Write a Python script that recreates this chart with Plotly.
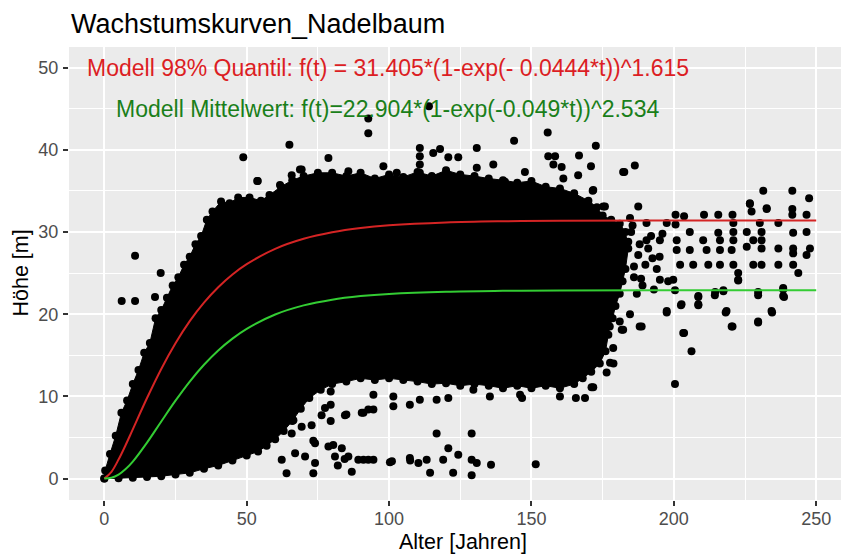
import plotly.graph_objects as go

# ---------------- data ----------------
title_text = "Wachstumskurven_Nadelbaum"
x_label = "Alter [Jahren]"
y_label = "Höhe [m]"
x_ticks = [0, 50, 100, 150, 200, 250]
y_ticks = [0, 10, 20, 30, 40, 50]

red_label = "Modell 98% Quantil: f(t) = 31.405*(1-exp(- 0.0444*t))^1.615"
green_label = "Modell Mittelwert: f(t)=22.904*(1-exp(-0.049*t))^2.534"

# model curves
curve_age = [0, 2.5, 5, 7.5, 10, 15, 20, 25, 30, 35, 40, 45, 50, 60, 70, 80, 90,
             100, 120, 140, 160, 200, 250]
curve_q98 = [0, 0.83, 2.32, 4.09, 5.99, 9.80, 13.34, 16.46, 19.15, 21.40, 23.27,
             24.82, 26.08, 27.95, 29.17, 29.96, 30.48, 30.81, 31.16, 31.30, 31.36,
             31.40, 31.40]
curve_mean = [0, 0.10, 0.48, 1.16, 2.07, 4.38, 6.95, 9.48, 11.81, 13.85, 15.59,
              17.03, 18.22, 19.96, 21.07, 21.77, 22.20, 22.47, 22.74, 22.84, 22.88,
              22.90, 22.90]

# outline of the dense point cloud (age, height)
cloud_age = [0, 0.3, 2, 4, 6, 8, 10, 12, 14, 16, 18, 20, 22, 24, 26, 28, 30, 32, 34,
             36, 38, 41, 44, 47, 51, 55, 58, 62, 66, 70, 75, 80, 85, 90, 95, 100, 105,
             110, 115, 120, 125, 130, 135, 140, 145, 150, 155, 160, 165, 170, 173, 175,
             178, 181, 183, 184, 183, 182, 181, 179.5, 178.5, 177.5, 177, 176, 174, 171,
             168, 165, 160, 155, 150, 145, 140, 135, 130, 125, 120, 115, 110, 105, 100,
             95, 90, 85, 80, 76, 72, 69, 66, 63, 60, 57, 54, 50, 45, 40, 35, 30, 25, 20,
             15, 10, 5, 0]
cloud_h = [0, 1, 3, 5.2, 8, 9.5, 11.5, 13.2, 15.3, 16.5, 19.5, 20.5, 22, 23.5, 24.5,
           26, 27, 28.5, 29.5, 31.5, 32.5, 33.7, 33.5, 34.2, 34.2, 33.8, 34.5, 35.5,
           36.3, 36.8, 37.2, 37.2, 36.8, 37.2, 36.5, 37, 36.7, 37.3, 36.8, 37.5, 37,
           36.8, 36.5, 36.3, 36, 36.2, 35.5, 35.3, 34.7, 33.8, 33, 32, 31.5, 31, 30,
           28, 25.5, 24, 22.5, 21, 19.5, 18.5, 17.5, 15.5, 14, 13, 12.2, 11.5, 11, 11.3,
           11, 11.3, 11, 11.3, 11.5, 11.3, 11.6, 11.5, 11.8, 12, 12.2, 12, 12.2, 11.8,
           11.5, 10.8, 9.8, 8.5, 7, 5.8, 4.8, 4, 3.3, 2.8, 2.2, 1.6, 1.2, 0.7, 0.5, 0.3,
           0.2, 0.1, 0.05, 0]

# individual (scattered) observations outside the dense cloud
pts_age = [
    6.1, 10.8, 10.8, 19.8, 17.8,
    48.8, 53.7, 65.0, 61.7, 65.8, 69.3, 92.7, 92.7, 78.7, 130.8, 143.9, 155.7, 172.6,
    166.7, 170.9, 182.6, 110.8, 110.8, 110.8, 110.8, 117.9, 115.5, 120.8, 124.3,
    130.8, 136.6, 155.9, 158.3, 157.7, 160.6, 166.4, 161.2, 171.7, 175.8, 53.9, 68.7,
    98.0, 85.7, 102.7, 147.7, 140.7, 114.0, 186.3, 182.2,
    231.4, 241.6, 247.5, 226.7, 227.3, 232.6, 241.6, 241.6, 246.6, 200.6, 203.6,
    210.6, 215.6, 220.6, 187.5, 184.6, 171.5, 175.2, 232.6, 226.7,
    190.4, 197.5, 200.6, 220.9, 230.2, 236.7, 220.9, 225.6, 230.8, 241.9, 246.6,
    205.6, 210.3, 215.6, 216.2, 220.9, 227.9, 230.8, 195.1, 201.0, 190.4, 201.0,
    205.6, 211.5, 216.2, 220.3, 225.6, 230.8, 236.7, 241.9, 247.8, 246.6, 241.9,
    202.2, 206.8, 212.1, 216.2, 220.9, 227.9, 230.8, 236.7, 241.9, 243.7, 222.6,
    222.6, 195.1, 199.8, 238.4, 238.7, 229.6, 217.4, 214.4, 208.6, 208.6, 202.5,
    200.4, 218.2, 234.5, 229.6, 220.6, 203.6, 197.5, 188.7,
    185.0, 188.0, 192.0, 195.0, 190.0, 194.0, 186.0, 189.0, 193.0, 198.0, 184.0,
    192.5, 196.0, 187.0, 185.5, 187.5, 186.0, 188.5, 191.0,
    188.0, 197.5, 202.7, 203.3, 206.2, 200.4, 218.5, 220.3, 229.6, 234.3, 217.4,
    214.5, 229.6, 238.4, 238.4, 222.6, 208.6, 208.6,
    177.6, 176.4, 171.1, 181.7, 178.7, 181.0, 184.6, 178.8, 182.2,
    94.5, 101.5, 110.8, 116.7, 120.8, 129.6, 135.4, 146.0, 146.7, 160.0, 165.6,
    168.8, 171.7,
    85.0, 91.0, 94.5, 101.5, 107.3, 79.5, 79.5, 79.5, 66.4, 73.4,
    64.0, 73.4, 86.9, 70.5, 74.0, 78.7, 80.4, 83.4, 85.7, 89.2, 92.7, 65.8, 69.3,
    72.8, 65.8, 76.3, 77.5, 84.5, 74.0, 62.3, 67.0, 81.0, 92.7, 90.4,
    91.0, 94.5, 101.0, 107.3, 110.3, 113.2, 114.4, 116.7, 119.0, 120.8, 124.3,
    122.5, 129.0, 129.0, 130.8, 129.0, 135.8, 151.5, 100.3, 107.4, 82.0, 84.4,
]
pts_h = [
    21.6, 21.6, 27.1, 25.0, 22.1,
    39.1, 36.2, 40.6, 35.7, 36.9, 37.6, 43.8, 42.0, 39.0, 40.2, 41.1, 42.1, 40.5,
    39.3, 38.0, 37.3, 40.2, 39.2, 38.2, 37.2, 40.1, 39.6, 39.1, 39.1,
    37.8, 38.2, 39.2, 39.2, 38.2, 37.9, 36.9, 36.5, 35.1, 33.1, 36.2, 37.6,
    38.0, 37.4, 37.2, 37.3, 36.1, 45.3, 38.1, 37.3,
    35.0, 35.0, 34.1, 33.5, 32.5, 32.8, 32.8, 32.1, 32.1, 32.1, 31.9,
    32.1, 32.1, 32.1, 33.1, 31.7, 35.0, 33.1, 32.9, 33.4,
    31.1, 31.1, 30.9, 31.1, 31.1, 31.1, 30.0, 30.0, 30.0, 29.9, 30.0,
    30.0, 29.0, 29.9, 29.0, 29.0, 29.0, 29.0, 29.0, 29.0, 29.0, 27.8,
    27.8, 27.8, 27.8, 27.8, 28.2, 28.0, 28.0, 28.0, 28.0, 27.2, 27.4,
    26.0, 26.0, 26.0, 26.0, 26.0, 26.0, 26.0, 26.0, 26.0, 25.0, 25.0,
    24.2, 24.2, 24.2, 23.2, 22.1, 22.3, 22.9, 22.3, 22.1, 21.1, 21.1,
    22.9, 20.2, 20.2, 19.0, 18.5, 17.7, 20.2, 18.5,
    30.0, 28.5, 29.5, 27.0, 26.0, 25.5, 24.5, 23.5, 23.0, 24.0, 28.8,
    26.8, 29.8, 22.5, 30.8, 27.2, 25.8, 24.3, 28.0,
    18.5, 20.4, 21.2, 17.7, 15.5, 11.5, 20.4, 18.5, 19.1, 20.4, 22.8,
    22.7, 22.7, 23.0, 22.2, 24.1, 22.2, 21.2,
    14.1, 12.9, 11.1, 18.1, 15.9, 19.1, 20.0, 14.0, 18.1,
    10.2, 10.0, 9.6, 9.6, 9.8, 10.8, 10.0, 10.2, 9.8, 10.0, 9.8,
    9.8, 11.1,
    7.8, 8.0, 8.4, 8.8, 9.0, 10.6, 9.0, 7.0, 7.1, 4.6,
    0.66, 0.66, 0.85, 2.7, 4.3, 3.9, 4.1, 3.7, 2.7, 2.3, 2.3, 5.5, 6.3,
    6.5, 7.3, 7.7, 8.6, 7.7, 1.9, 2.3, 3.1, 2.7, 8.4, 8.0,
    2.3, 2.3, 2.1, 2.5, 1.9, 2.3, 0.7, 5.5, 2.3, 3.7, 2.9,
    0.7, 5.5, 2.3, 1.9, 0.4, 1.7, 1.75, 2.0, 2.2, 1.6, 2.4,
]

# ---------------- figure ----------------
fig = go.Figure()

fig.add_trace(go.Scatter(
    x=cloud_age, y=cloud_h, mode="lines+markers", fill="toself",
    fillcolor="black", line=dict(color="black", width=1),
    marker=dict(color="black", size=8), hoverinfo="skip", showlegend=False))

fig.add_trace(go.Scatter(
    x=pts_age, y=pts_h, mode="markers",
    marker=dict(color="black", size=8), showlegend=False))

fig.add_trace(go.Scatter(
    x=curve_age, y=curve_q98, mode="lines", line=dict(color="#D42424", width=2, shape="spline"),
    showlegend=False))
fig.add_trace(go.Scatter(
    x=curve_age, y=curve_mean, mode="lines", line=dict(color="#33CC33", width=2, shape="spline"),
    showlegend=False))

FONT = "Liberation Sans, Arial, sans-serif"

fig.add_annotation(x=99.6, y=50, xref="x", yref="y", text=red_label, showarrow=False,
                   font=dict(family=FONT, size=23, color="#DC1E24"),
                   xanchor="center", yanchor="middle")
fig.add_annotation(x=99.6, y=45, xref="x", yref="y", text=green_label, showarrow=False,
                   font=dict(family=FONT, size=23, color="#1A7F1A"),
                   xanchor="center", yanchor="middle")

# title and axis titles
fig.add_annotation(x=0, y=1 + (47 - 24) / 453, xref="paper", yref="paper", text=title_text,
                   showarrow=False, font=dict(family=FONT, size=27, color="black"),
                   xanchor="left", yanchor="middle")
fig.add_annotation(x=(463 - 69) / 772, y=(500 - 542) / 453, xref="paper", yref="paper",
                   text=x_label, showarrow=False,
                   font=dict(family=FONT, size=21.5, color="black"),
                   xanchor="center", yanchor="middle")
fig.add_annotation(x=(20 - 69) / 772, y=0.5, xref="paper", yref="paper",
                   text=y_label, showarrow=False, textangle=-90,
                   font=dict(family=FONT, size=21.5, color="black"),
                   xanchor="center", yanchor="middle")

axis_common = dict(
    showline=False, zeroline=False, showgrid=True, gridcolor="white", gridwidth=2,
    ticks="outside", ticklen=5, tickwidth=1.5, tickcolor="#333333",
    tickfont=dict(family=FONT, size=18, color="#4D4D4D"),
)

fig.update_layout(
    width=841, height=558,
    margin=dict(l=69, r=0, t=47, b=58),
    paper_bgcolor="white", plot_bgcolor="#EBEBEB",
    xaxis=dict(range=[-12.4, 258.7], tickvals=x_ticks, ticktext=[str(v) for v in x_ticks],
               ticklabelstandoff=-3,
               minor=dict(tickvals=[25, 75, 125, 175, 225], showgrid=True,
                          gridcolor="white", gridwidth=1, ticks=""),
               **axis_common),
    yaxis=dict(range=[-2.6, 52.5], tickvals=y_ticks, ticktext=[str(v) for v in y_ticks],
               ticklabelstandoff=1,
               minor=dict(tickvals=[5, 15, 25, 35, 45], showgrid=True,
                          gridcolor="white", gridwidth=1, ticks=""),
               **axis_common),
    showlegend=False,
)

fig.write_html("out.html")
